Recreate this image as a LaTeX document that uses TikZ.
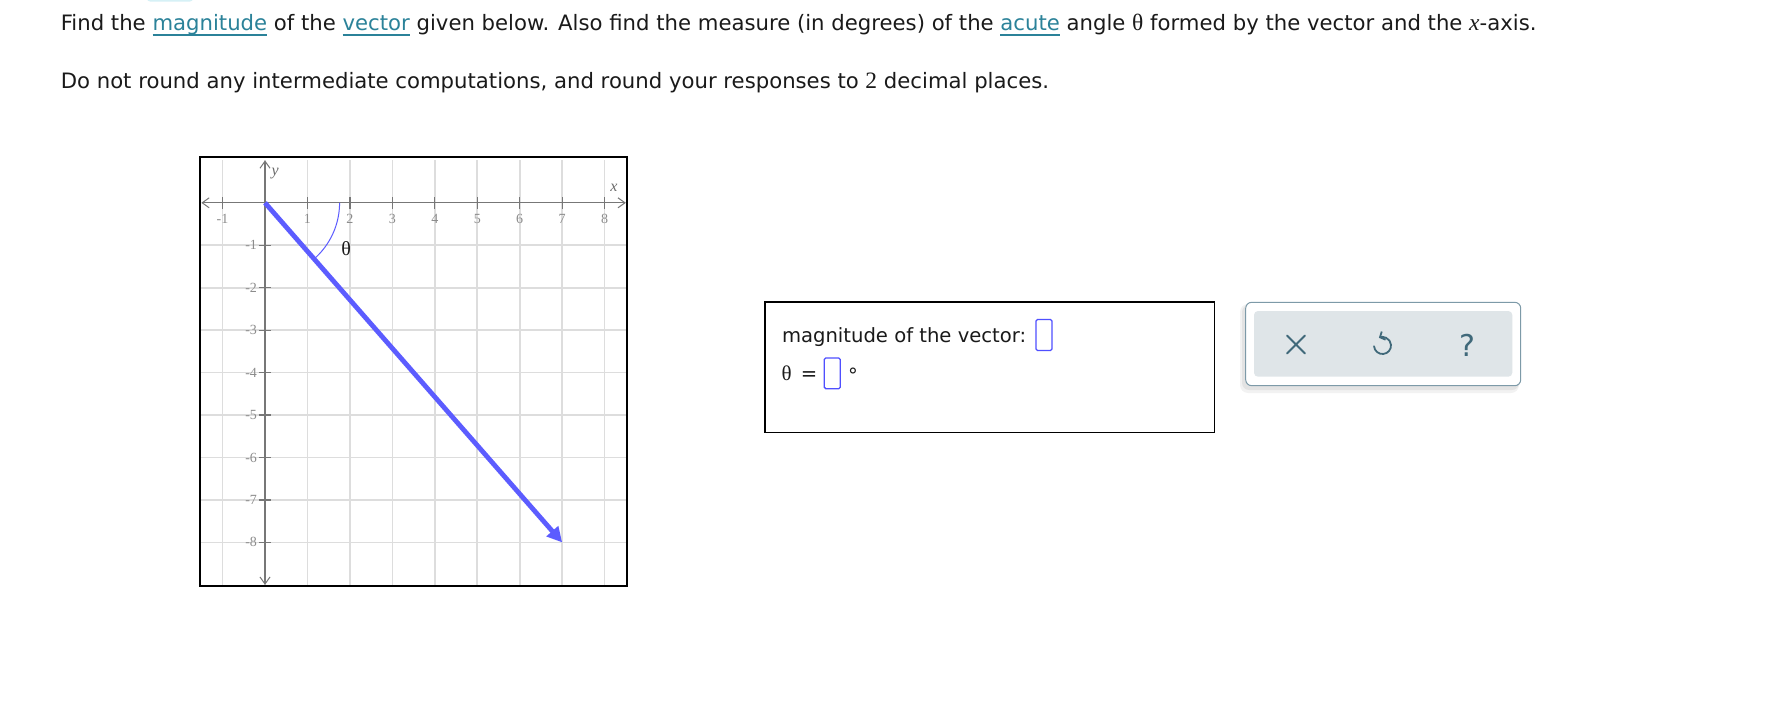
\documentclass[tikz,border=0pt]{standalone}
\usepackage{fontspec}
\setmainfont{DejaVu Sans}
\newfontfamily\serifrm{Liberation Serif}
\usepackage{tikz}
\usetikzlibrary{positioning}
\usetikzlibrary{calc}
\usetikzlibrary{arrows.meta}
\usepackage{xcolor}
\definecolor{inktext}{HTML}{1A1A1A}
\definecolor{linkteal}{HTML}{2B8299}
\definecolor{tabcyan}{HTML}{D6F1F6}
\definecolor{vecblue}{HTML}{5C5CFF}
\definecolor{gridgray}{HTML}{DDDDDD}
\definecolor{axisgray}{HTML}{777777}
\definecolor{ticktext}{HTML}{8C8C8C}
\definecolor{boxblue}{HTML}{4F4FFF}
\definecolor{panelline}{HTML}{7D9AA8}
\definecolor{panelfill}{HTML}{DFE5E8}
\definecolor{icongray}{HTML}{40697A}
\newcommand{\lnk}[1]{\textcolor{linkteal}{\setbox0=\hbox{#1}\rlap{\rule[-5.5pt]{\wd0}{1.8pt}}\box0}}
\newcommand{\mathbit}[1]{{\serifrm\fontsize{23.5}{23}\selectfont #1}}
\tikzset{
	every node/.style={inner sep=0pt, outer sep=0pt},
	prose/.style={anchor=base west, font=\fontsize{19.6}{23}\selectfont, text=inktext},
	question/.style={prose, font=\fontsize{21.2}{25}\selectfont},
	gridline/.style={draw=gridgray, line width=1.6pt},
	axisline/.style={draw=axisgray, line width=1.3pt, {Straight Barb[length=7pt,width=10pt,line width=1pt]}-{Straight Barb[length=7pt,width=10pt,line width=1pt]}},
	tickmark/.style={draw=axisgray, line width=1.3pt},
	ticklabel/.style={font=\serifrm\fontsize{14}{14}\selectfont, text=ticktext},
	axislabel/.style={font=\serifrm\itshape\fontsize{16}{16}\selectfont, text=axisgray!90!black},
	vec/.style={draw=vecblue, line width=4.8pt, -{Triangle[length=15pt,width=15pt]}},
	anglearc/.style={draw=vecblue, line width=1pt},
	inbox/.style={draw=boxblue, line width=1.3pt, rounded corners=1.5pt},
	iconline/.style={draw=icongray, line width=1.8pt, line cap=round}
}

\begin{document}
\begin{tikzpicture}[x=1pt,y=-1pt]
	\useasboundingbox (0,0) rectangle (1765,728);
	\fill[white] (0,0) rectangle (1765,728);
	\fill[tabcyan, rounded corners=3pt] (147,-6) rectangle (193,1.5);

	\node[question] (line1) at (60.8,30) {Find the \lnk{magnitude} of the \lnk{vector} given below. Also find the measure (in degrees) of the \lnk{acute} angle \mathbit{θ} formed by the vector and the \mathbit{\itshape x}-axis.};
	\node[question] (line2) at (60.8,88) {Do not round any intermediate computations, and round your responses to \mathbit{2} decimal places.};

	\draw[line width=1.3pt] (200,157) rectangle (627,586);
	\begin{scope}[shift={(265,202.8)}, x=42.45pt, y=42.45pt]
		\foreach \i in {-1,...,8}
			\draw[gridline] (\i,-9) -- (\i,1);
		\foreach \j in {-8,...,-1}
			\draw[gridline] (-1.5,\j) -- (8.5,\j);
		\draw[axisline] (-1.5,0) -- (8.5,0);
		\draw[axisline] (0,-9) -- (0,1);
		\foreach \i in {-1,1,2,...,8} {
			\draw[tickmark] (\i,-0.14) -- (\i,0.14);
			\node[ticklabel] (xl\i) at (\i,-0.38) {\i};
		}
		\foreach \j in {-1,...,-8} {
			\draw[tickmark] (-0.15,\j) -- (0.15,\j);
			\node[ticklabel, anchor=east] (yl\j) at (-0.19,\j) {\j};
		}
		\node[axislabel] (xlab) at (8.22,0.36) {x};
		\node[axislabel] (ylab) at (0.24,0.68) {y};

		\coordinate (O) at (0,0);
		\coordinate (tip) at (7,-8);
		\draw[anglearc] (1.757,0) arc[start angle=0, end angle=-48.81, radius=1.757];
		\draw[vec] (O) -- (tip);
		\node[font=\serifrm\fontsize{20}{20}\selectfont, text=inktext] (thlab) at (1.91,-1.09) {θ};
	\end{scope}

	\draw[line width=1.3pt] (765,302) rectangle (1214.5,432.5);
	\node[prose] (magtxt) at (782,342.3) {magnitude of the vector:};
	\draw[inbox] (1036,319.5) rectangle (1052,350.5);
	\node[prose, font=\serifrm\fontsize{21}{21}\selectfont] (thtxt) at (781.5,380) {θ};
	\node[prose, anchor=base] (eqtxt) at (809,380) {=};
	\draw[inbox] (824.3,358) rectangle (840.3,388.7);
	\node[prose, anchor=north] (degtxt) at (853,367.5) {°};

	\fill[black, opacity=0.05, rounded corners=8pt] (1240,304) rectangle (1519,393);
	\fill[black, opacity=0.06, rounded corners=7pt] (1242,305) rectangle (1519,390);
	\draw[panelline, fill=white, rounded corners=6pt, line width=1pt] (1245.7,302.3) rectangle (1520.7,385.7);
	\fill[panelfill, rounded corners=4pt] (1254,311) rectangle (1512.3,376.7);
	\draw[iconline] (1287,335.5) -- (1305,353.5) (1287,353.5) -- (1305,335.5);
	\draw[iconline, -{Straight Barb[length=4pt,width=9pt]}] (1382.5,345.5) ++(-185:8.5) arc[start angle=-185, end angle=-475, radius=8.5];
	\node[text=icongray, font=\fontsize{30}{30}\selectfont] (helpq) at (1467.7,345) {?};
\end{tikzpicture}
\end{document}
